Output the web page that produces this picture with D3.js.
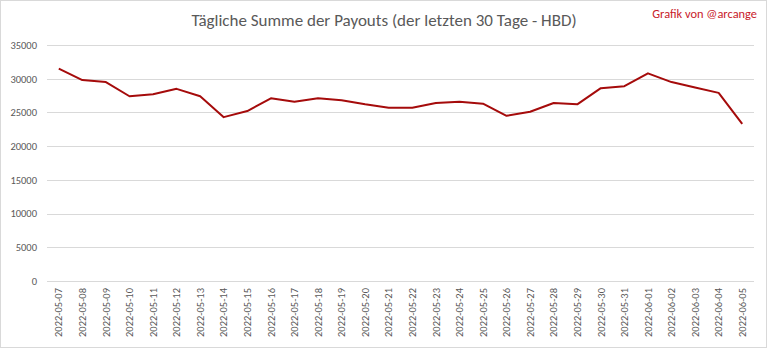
<!DOCTYPE html>
<html><head><meta charset="utf-8">
<script src="https://cdn.jsdelivr.net/npm/d3@7"></script>
<style>body{margin:0;background:#fff;}svg{display:block;}</style>
</head><body><svg id="c" width="768" height="349"></svg>
<script>
const dates = ["2022-05-07","2022-05-08","2022-05-09","2022-05-10","2022-05-11","2022-05-12","2022-05-13","2022-05-14","2022-05-15","2022-05-16","2022-05-17","2022-05-18","2022-05-19","2022-05-20","2022-05-21","2022-05-22","2022-05-23","2022-05-24","2022-05-25","2022-05-26","2022-05-27","2022-05-28","2022-05-29","2022-05-30","2022-05-31","2022-06-01","2022-06-02","2022-06-03","2022-06-04","2022-06-05"];
const payouts = [31500,29800,29500,27400,27700,28500,27400,24300,25200,27100,26600,27100,26800,26200,25700,25700,26400,26600,26300,24500,25100,26400,26200,28600,28900,30800,29500,28700,27900,23300];
const yTicks = [0,5000,10000,15000,20000,25000,30000,35000];
const title = "Tägliche Summe der Payouts (der letzten 30 Tage - HBD)";
const credit = "Grafik von @arcange";

(function(){
const svg = d3.select("#c");
const font = "Carlito, Lato, 'Liberation Sans', sans-serif";
svg.append("rect").attr("x",0.5).attr("y",0.5).attr("width",766).attr("height",347).attr("fill","#fff").attr("stroke","#d9d9d9");

const pl=47, pr=754, pt=45, pb=281;
const x = d3.scaleBand().domain(dates).range([pl,pr]);
const y = d3.scaleLinear().domain([0,35000]).range([pb,pt]);

const grid = svg.append("g");
grid.selectAll("line").data(yTicks).join("line")
  .attr("x1",pl).attr("x2",pr).attr("y1",d=>Math.round(y(d))+0.5).attr("y2",d=>Math.round(y(d))+0.5)
  .attr("stroke","#d9d9d9").attr("stroke-width",1);

const yAxis = svg.append("g").attr("transform",`translate(${pl},0)`)
  .call(d3.axisLeft(y).tickValues(yTicks).tickSize(0).tickPadding(10).tickFormat(d3.format("d")));
yAxis.select(".domain").remove();
yAxis.selectAll("text").attr("fill","#595959").style("font-family",font).style("font-size","10.5px");

const xAxis = svg.append("g").attr("transform",`translate(0,${pb})`)
  .call(d3.axisBottom(x).tickSize(0).tickPadding(0));
xAxis.select(".domain").remove();
xAxis.selectAll("text").attr("fill","#595959").style("font-family",font).style("font-size","10.5px")
  .attr("transform","rotate(-90)").attr("text-anchor","end").attr("x",-7).attr("y",0).attr("dy","0.35em");

const line = d3.line().x((d,i)=>x(dates[i])+x.bandwidth()/2).y(d=>y(d));
svg.append("path").datum(payouts).attr("d",line).attr("fill","none")
  .attr("stroke","#a50b0b").attr("stroke-width",2).attr("stroke-linejoin","round");

svg.append("text").attr("x",384).attr("y",26).attr("text-anchor","middle")
  .attr("fill","#595959").style("font-family",font).style("font-size","17px").text(title);
svg.append("text").attr("x",757).attr("y",18).attr("text-anchor","end")
  .attr("fill","#c8202a").style("font-family",font).style("font-size","12.4px").text(credit);
})();
</script></body></html>
